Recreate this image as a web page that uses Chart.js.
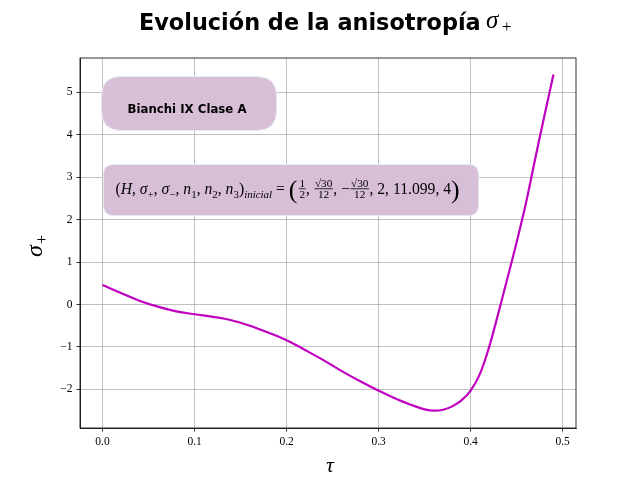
<!DOCTYPE html>
<html>
<head>
<meta charset="utf-8">
<script src="https://cdn.jsdelivr.net/npm/chart.js@4.4.1/dist/chart.umd.min.js"></script>
<style>
html,body{margin:0;padding:0;background:#fff;}
canvas{display:block;}
</style>
</head>
<body>
<canvas id="c" width="640" height="480"></canvas>
<script>
// ---- data ----
const tau = [0, 0.02, 0.04, 0.06, 0.08, 0.10, 0.12, 0.14, 0.16, 0.18, 0.20, 0.22, 0.24, 0.26, 0.28, 0.30, 0.32, 0.34, 0.35, 0.36, 0.37, 0.38, 0.39, 0.40, 0.41, 0.42, 0.43, 0.44, 0.45, 0.46, 0.47, 0.48, 0.49];
const sigmaPlus = [0.46, 0.27, 0.09, -0.05, -0.16, -0.23, -0.29, -0.37, -0.50, -0.66, -0.84, -1.07, -1.31, -1.57, -1.81, -2.03, -2.23, -2.40, -2.47, -2.50, -2.48, -2.40, -2.26, -2.03, -1.64, -1.01, -0.21, 0.62, 1.47, 2.38, 3.42, 4.43, 5.42];
const xTickValues = [0.0, 0.1, 0.2, 0.3, 0.4, 0.5];
const yTickValues = [-2, -1, 0, 1, 2, 3, 4, 5];
const titleText = "Evolución de la anisotropía";
const boxLabel = "Bianchi IX Clase A";

const SERIF = '"Liberation Serif", "DejaVu Serif", serif';
const SANS = '"DejaVu Sans", "Liberation Sans", sans-serif';

function roundRect(ctx, x, y, w, h, r) {
  ctx.beginPath();
  ctx.moveTo(x + r, y);
  ctx.lineTo(x + w - r, y);
  ctx.quadraticCurveTo(x + w, y, x + w, y + r);
  ctx.lineTo(x + w, y + h - r);
  ctx.quadraticCurveTo(x + w, y + h, x + w - r, y + h);
  ctx.lineTo(x + r, y + h);
  ctx.quadraticCurveTo(x, y + h, x, y + h - r);
  ctx.lineTo(x, y + r);
  ctx.quadraticCurveTo(x, y, x + r, y);
  ctx.closePath();
}

// simple math-run renderer
function mathRun(ctx, items, x, y, S, draw) {
  let cx = x;
  for (const it of items) {
    if (it.frac) {
      const fs = S * 0.72;
      ctx.font = fs + 'px ' + SERIF;
      const wn = ctx.measureText(it.frac[0]).width;
      const wd = ctx.measureText(it.frac[1]).width;
      const w = Math.max(wn, wd) + 2;
      if (draw) {
        const axis = y - S * 0.3;
        ctx.textAlign = 'center';
        ctx.fillText(it.frac[0], cx + w / 2, axis - 2);
        ctx.fillText(it.frac[1], cx + w / 2, axis + fs * 0.75 + 1);
        ctx.fillRect(cx + 0.5, axis - 0.4, w - 1, 0.8);
        ctx.textAlign = 'left';
      }
      cx += w;
    } else if (it.big) {
      const fs = S * 1.65;
      ctx.font = fs + 'px ' + SERIF;
      const w = ctx.measureText(it.big).width;
      if (draw) ctx.fillText(it.big, cx, y + S * 0.3);
      cx += w + 1;
    } else {
      const sub = it.sub;
      const fs = sub ? S * 0.7 : S;
      ctx.font = (it.i ? 'italic ' : '') + fs + 'px ' + SERIF;
      const w = ctx.measureText(it.t).width;
      if (draw) ctx.fillText(it.t, cx, y + (sub ? S * 0.28 : 0));
      cx += w;
    }
  }
  return cx - x;
}

const boxMath = [
  {t:'('}, {t:'H', i:1}, {t:', '}, {t:'σ', i:1}, {t:'+', sub:1}, {t:', '}, {t:'σ', i:1}, {t:'−', sub:1}, {t:', '},
  {t:'n', i:1}, {t:'1', sub:1}, {t:', '}, {t:'n', i:1}, {t:'2', sub:1}, {t:', '}, {t:'n', i:1}, {t:'3', sub:1}, {t:')'},
  {t:'inicial', i:1, sub:1}, {t:' = '}, {big:'('}, {frac:['1','2']}, {t:', '}, {frac:['√30','12']}, {t:', −'},
  {frac:['√30','12']}, {t:', 2, 11.099, 4'}, {big:')'}
];

const decor = {
  id: 'decor',
  afterDatasetsDraw(chart) {
    const ctx = chart.ctx;
    const a = chart.chartArea;
    ctx.save();
    // frame (top & right)
    ctx.strokeStyle = '#000';
    ctx.lineWidth = 0.8;
    ctx.strokeRect(a.left, a.top, a.right - a.left, a.bottom - a.top);

    // box 1
    ctx.fillStyle = '#d8bfd8';
    ctx.strokeStyle = '#e4e8f2';
    ctx.lineWidth = 1;
    roundRect(ctx, 101.5, 76.5, 175, 54, 20);
    ctx.fill(); ctx.stroke();
    ctx.fillStyle = '#000';
    let fs = 12;
    ctx.font = 'bold ' + fs + 'px ' + SANS;
    fs = fs * 119 / ctx.measureText(boxLabel).width;
    ctx.font = 'bold ' + fs + 'px ' + SANS;
    ctx.textAlign = 'center';
    ctx.textBaseline = 'alphabetic';
    ctx.fillText(boxLabel, 187, 112.5);

    // box 2
    ctx.fillStyle = '#d8bfd8';
    roundRect(ctx, 103.5, 164.5, 375, 51, 10);
    ctx.fill(); ctx.stroke();
    ctx.fillStyle = '#000';
    ctx.textAlign = 'left';
    let S = 13;
    const w0 = mathRun(ctx, boxMath, 0, 0, S, false);
    S = S * 347 / w0;
    mathRun(ctx, boxMath, 115.5, 193.5, S, true);

    // title
    let ts = 20;
    ctx.font = 'bold ' + ts + 'px ' + SANS;
    ts = ts * 342 / ctx.measureText(titleText).width;
    ctx.font = 'bold ' + ts + 'px ' + SANS;
    ctx.fillText(titleText, 139, 30);
    ctx.font = 'italic 25px ' + SERIF;
    ctx.fillText('σ', 486, 28);
    ctx.font = '17px ' + SERIF;
    ctx.fillText('+', 502, 32);

    // x label
    ctx.font = 'italic 22px ' + SERIF;
    ctx.textAlign = 'center';
    ctx.fillText('τ', 330, 472);

    // y label (rotated)
    ctx.save();
    ctx.translate(42, 249);
    ctx.rotate(-Math.PI / 2);
    ctx.textAlign = 'left';
    ctx.font = 'italic 24px ' + SERIF;
    ctx.fillText('σ', -8, 0);
    ctx.font = '16px ' + SERIF;
    ctx.fillText('+', 5, 5);
    ctx.restore();

    ctx.restore();
  }
};

new Chart(document.getElementById('c'), {
  type: 'line',
  data: {
    datasets: [{
      data: tau.map((t, i) => ({x: t, y: sigmaPlus[i]})),
      borderColor: '#bf00bf',
      borderWidth: 2.2,
      pointRadius: 0,
      fill: false,
      tension: 0.4,
      cubicInterpolationMode: 'default'
    }]
  },
  options: {
    responsive: false,
    animation: false,
    layout: {padding: {top: 58, right: 64, left: 0, bottom: 0}},
    plugins: {legend: {display: false}, title: {display: false}, tooltip: {enabled: false}},
    scales: {
      x: {
        type: 'linear',
        min: -0.0245, max: 0.5145,
        afterBuildTicks(s) { s.ticks = xTickValues.map(v => ({value: v})); },
        afterFit(s) { s.height = 52; },
        grid: {color: '#b0b0b0', lineWidth: 0.8, tickColor: '#000', tickLength: 3.5, tickWidth: 0.8},
        border: {color: '#000', width: 0.8},
        ticks: {
          color: '#000', padding: 4, maxRotation: 0,
          font: {family: SERIF, size: 11.5},
          callback: v => v.toFixed(1)
        }
      },
      y: {
        type: 'linear',
        min: -2.91, max: 5.81,
        afterBuildTicks(s) { s.ticks = yTickValues.map(v => ({value: v})); },
        afterFit(s) { s.width = 80; },
        grid: {color: '#b0b0b0', lineWidth: 0.8, tickColor: '#000', tickLength: 3.5, tickWidth: 0.8},
        border: {color: '#000', width: 0.8},
        ticks: {
          color: '#000', padding: 4,
          font: {family: SERIF, size: 11.5},
          callback: v => (v < 0 ? '−' + Math.abs(v) : String(v))
        }
      }
    }
  },
  plugins: [decor]
});
</script>
</body>
</html>
